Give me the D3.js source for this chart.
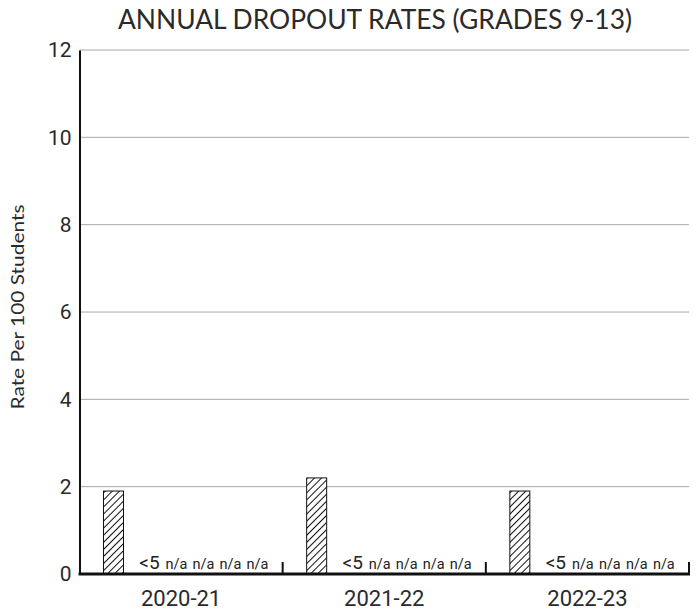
<!DOCTYPE html>
<html>
<head>
<meta charset="utf-8">
<script src="https://cdn.jsdelivr.net/npm/d3@7"></script>
<style>
  html, body { margin: 0; padding: 0; background: #fff; }
  svg { display: block; }
</style>
</head>
<body>
<svg id="chart" width="699" height="610"></svg>
<script>
// School years on the x axis
const years = ["2020-21", "2021-22", "2022-23"];
// Student groups drawn side by side within each year
const groups = ["all", "g1", "g2", "g3", "g4", "g5"];
// Dropout rate per 100 students for the first group; null where suppressed
const rates = [
  [1.9, null, null, null, null, null],
  [2.2, null, null, null, null, null],
  [1.9, null, null, null, null, null]
];
// Text shown in place of a suppressed value
const notes = [
  [null, "<5", "n/a", "n/a", "n/a", "n/a"],
  [null, "<5", "n/a", "n/a", "n/a", "n/a"],
  [null, "<5", "n/a", "n/a", "n/a", "n/a"]
];
const yTicks = [0, 2, 4, 6, 8, 10, 12];

const svg = d3.select("#chart");
const margin = { left: 79.5, right: 10, top: 50, bottom: 36 };
const W = 699, H = 610;

const x = d3.scaleBand().domain(years).range([margin.left, 689]).padding(0);
const inner = d3.scaleBand().domain(groups)
  .range([24, 24 + 5 * 27 + 20]).paddingInner(7 / 27).paddingOuter(0);
const y = d3.scaleLinear().domain([0, 12]).range([H - margin.bottom, margin.top]);

// Hatch pattern for the bars
const defs = svg.append("defs");
const pat = defs.append("pattern")
  .attr("id", "hatch").attr("patternUnits", "userSpaceOnUse")
  .attr("width", 5).attr("height", 5)
  .attr("patternTransform", "rotate(45)");
pat.append("rect").attr("width", 5).attr("height", 5).attr("fill", "#fff");
pat.append("line").attr("x1", 0.5).attr("y1", 0).attr("x2", 0.5).attr("y2", 5)
  .attr("stroke", "#111").attr("stroke-width", 1);

// Title
svg.append("text")
  .attr("x", 375).attr("y", 29)
  .attr("text-anchor", "middle")
  .attr("font-family", "Lato, sans-serif")
  .attr("font-size", 26)
  .attr("fill", "#2a2a2a")
  .attr("textLength", 514).attr("lengthAdjust", "spacingAndGlyphs")
  .text("ANNUAL DROPOUT RATES (GRADES 9-13)");

// Horizontal grid
svg.append("g").selectAll("line")
  .data(yTicks.filter(d => d > 0))
  .join("line")
  .attr("x1", margin.left).attr("x2", 689)
  .attr("y1", d => y(d)).attr("y2", d => y(d))
  .attr("stroke", "#a8a8a8").attr("stroke-width", 1);

// Y axis
const yAxis = svg.append("g")
  .attr("transform", `translate(${margin.left},0)`)
  .call(d3.axisLeft(y).tickValues(yTicks).tickSize(0).tickPadding(8));
yAxis.select(".domain").attr("stroke", "#111").attr("stroke-width", 2);
yAxis.selectAll("text")
  .attr("font-family", "Roboto, sans-serif")
  .attr("font-size", 21)
  .attr("fill", "#2a2a2a");

svg.append("text")
  .attr("transform", `translate(24,${(y(0) + y(12)) / 2 - 5}) rotate(-90)`)
  .attr("text-anchor", "middle")
  .attr("font-family", "Lato, sans-serif")
  .attr("font-size", 17)
  .attr("fill", "#2a2a2a")
  .attr("textLength", 205).attr("lengthAdjust", "spacingAndGlyphs")
  .text("Rate Per 100 Students");

// Bars and suppressed-value notes
const yearG = svg.append("g").selectAll("g")
  .data(years)
  .join("g")
  .attr("transform", d => `translate(${x(d)},0)`);

yearG.selectAll("rect")
  .data((d, i) => groups.map((g, j) => ({ g, v: rates[i][j] })).filter(e => e.v != null))
  .join("rect")
  .attr("x", d => inner(d.g))
  .attr("width", inner.bandwidth())
  .attr("y", d => y(d.v))
  .attr("height", d => y(0) - y(d.v))
  .attr("fill", "url(#hatch)")
  .attr("stroke", "#111").attr("stroke-width", 1);

yearG.selectAll("text.note")
  .data((d, i) => groups.map((g, j) => ({ g, t: notes[i][j] })).filter(e => e.t != null))
  .join("text")
  .attr("class", "note")
  .attr("x", d => inner(d.g) + inner.bandwidth() / 2 + 9)
  .attr("y", y(0) - 5)
  .attr("text-anchor", "middle")
  .attr("font-family", "Roboto, sans-serif")
  .attr("font-size", d => d.t === "<5" ? 19 : 14.5)
  .attr("fill", "#222")
  .text(d => d.t);

// X axis with upward ticks at year boundaries
const xAxisG = svg.append("g");
xAxisG.append("line")
  .attr("x1", margin.left - 1).attr("x2", 690)
  .attr("y1", y(0)).attr("y2", y(0))
  .attr("stroke", "#111").attr("stroke-width", 3);
xAxisG.selectAll("line.tick")
  .data(years)
  .join("line")
  .attr("class", "tick")
  .attr("x1", d => x(d) + x.bandwidth()).attr("x2", d => x(d) + x.bandwidth())
  .attr("y1", y(0)).attr("y2", y(0) - 12)
  .attr("stroke", "#111").attr("stroke-width", 2);
xAxisG.selectAll("text")
  .data(years)
  .join("text")
  .attr("x", d => x(d) + x.bandwidth() / 2)
  .attr("y", 606)
  .attr("text-anchor", "middle")
  .attr("font-family", "Roboto, sans-serif")
  .attr("font-size", 22)
  .attr("fill", "#2a2a2a")
  .text(d => d);
</script>
</body>
</html>
